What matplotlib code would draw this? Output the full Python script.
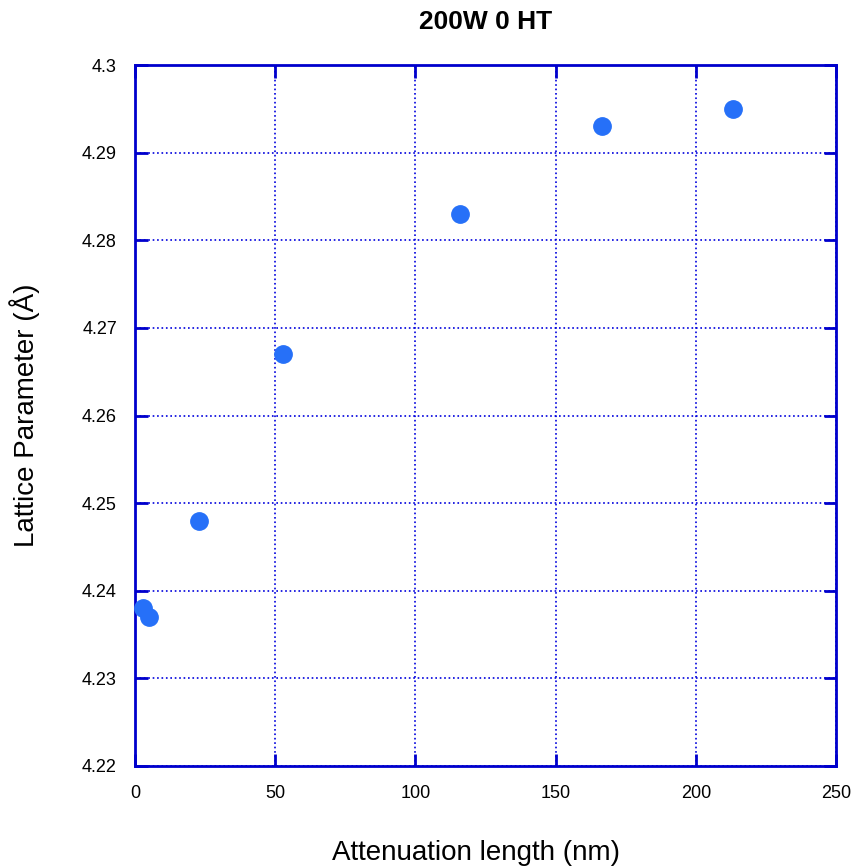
import matplotlib
matplotlib.use('Agg')
import matplotlib.pyplot as plt

plt.rcParams['font.family'] = ['Liberation Sans', 'DejaVu Sans']

atten_nm = [2.9, 5.0, 22.8, 52.8, 115.9, 166.5, 213.3]
lattice_A = [4.238, 4.237, 4.248, 4.267, 4.283, 4.293, 4.295]

fig = plt.figure(figsize=(8.52, 8.67), dpi=100)
ax = fig.add_axes([0.1585, 0.1165, 0.8228, 0.8085])

ax.plot(atten_nm, lattice_A, 'o', color='#2670f8', markersize=12.5, clip_on=False, zorder=3)

ax.set_xlim(0, 250)
ax.set_ylim(4.22, 4.30)
ax.set_xticks([0, 50, 100, 150, 200, 250])
ax.set_yticks([4.22, 4.23, 4.24, 4.25, 4.26, 4.27, 4.28, 4.29, 4.30])
ax.set_yticklabels(['4.22', '4.23', '4.24', '4.25', '4.26', '4.27', '4.28', '4.29', '4.3'])

ax.grid(True, color='#0000dd', linestyle=':', linewidth=1.2)
for s in ax.spines.values():
    s.set_color('#0000cc')
    s.set_linewidth(2)
ax.tick_params(direction='in', length=9, width=2, color='#0000cc', labelsize=13,
               top=True, right=True)
ax.tick_params(axis='x', pad=14)
ax.tick_params(axis='y', pad=13)

ax.set_xlabel('Attenuation length (nm)', fontsize=20)
ax.xaxis.set_label_coords(0.486, -0.105)
ax.set_ylabel('Lattice Parameter (Å)', fontsize=20, labelpad=30)
ax.set_title('200W 0 HT', fontsize=19, fontweight='bold', pad=26)

fig.savefig('out.png', dpi=100)
